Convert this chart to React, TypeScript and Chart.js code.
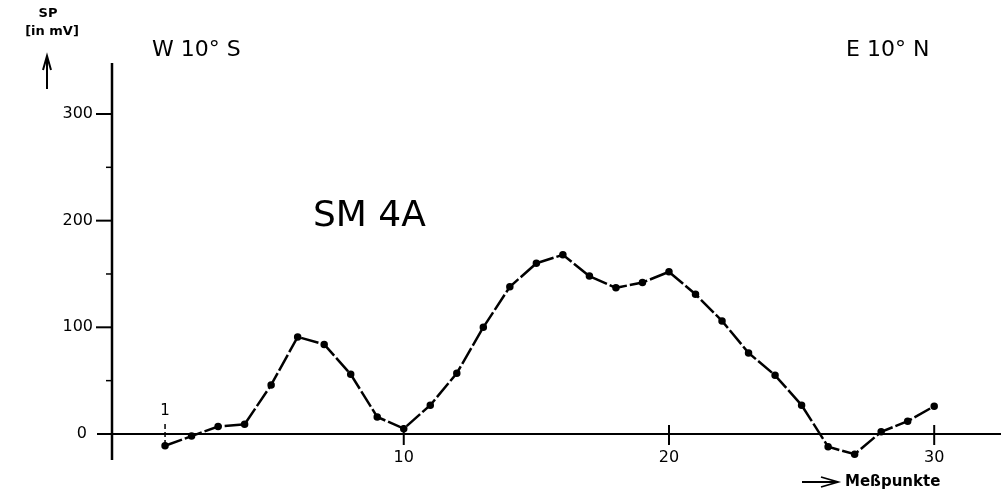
import React, { useEffect, useRef } from "react";
import { Chart, registerables } from "chart.js";

Chart.register(...registerables);

const measurePoints: number[] = [1,2,3,4,5,6,7,8,9,10,11,12,13,14,15,16,17,18,19,20,21,22,23,24,25,26,27,28,29,30];
const spValues: number[] = [-11,-2,7,9,46,91,84,56,16,5,27,57,100,138,160,168,148,137,142,152,131,106,76,55,27,-12,-19,2,12,26];
const yMajorTicks: number[] = [0, 100, 200, 300];
const yMinorTicks: number[] = [50, 150, 250];
const xMajorTicks: number[] = [10, 20, 30];

const FONT = "'DejaVu Sans', sans-serif";

const axesPlugin = {
  id: "handAxes",
  afterDraw(chart: any) {
    const { ctx } = chart;
    const xs = chart.scales.x;
    const ys = chart.scales.y;
    const ax = xs.getPixelForValue(xs.min);
    const ay = ys.getPixelForValue(0);
    ctx.save();
    ctx.strokeStyle = "#000";
    ctx.fillStyle = "#000";
    // y axis
    ctx.lineWidth = 2.5;
    ctx.beginPath();
    ctx.moveTo(ax, ys.getPixelForValue(ys.max));
    ctx.lineTo(ax, ys.getPixelForValue(ys.min));
    ctx.stroke();
    // x axis
    ctx.lineWidth = 2;
    ctx.beginPath();
    ctx.moveTo(ax - 15, ay);
    ctx.lineTo(1001, ay);
    ctx.stroke();
    // y ticks
    ctx.font = `16px ${FONT}`;
    ctx.textAlign = "right";
    ctx.textBaseline = "middle";
    yMajorTicks.forEach((v) => {
      const py = ys.getPixelForValue(v);
      if (v !== 0) {
        ctx.lineWidth = 2;
        ctx.beginPath();
        ctx.moveTo(ax - 16, py);
        ctx.lineTo(ax, py);
        ctx.stroke();
      }
      ctx.fillText(String(v), ax - (v === 0 ? 25 : 19), py);
    });
    yMinorTicks.forEach((v) => {
      const py = ys.getPixelForValue(v);
      ctx.lineWidth = 1.5;
      ctx.beginPath();
      ctx.moveTo(ax - 6, py);
      ctx.lineTo(ax, py);
      ctx.stroke();
    });
    // x ticks
    ctx.textAlign = "center";
    xMajorTicks.forEach((v) => {
      const px = xs.getPixelForValue(v);
      ctx.lineWidth = 2;
      ctx.beginPath();
      ctx.moveTo(px, ay - 9);
      ctx.lineTo(px, ay + 11);
      ctx.stroke();
      ctx.fillText(String(v), px, ay + 24);
    });
    // point 1 marker
    const p1 = xs.getPixelForValue(measurePoints[0]);
    ctx.lineWidth = 1.5;
    ctx.setLineDash([5, 3]);
    ctx.beginPath();
    ctx.moveTo(p1, ay - 10);
    ctx.lineTo(p1, ay + 12);
    ctx.stroke();
    ctx.setLineDash([]);
    ctx.font = `15px ${FONT}`;
    ctx.fillText("1", p1, ay - 23);

    // y axis title
    ctx.font = `bold 13px ${FONT}`;
    ctx.textAlign = "center";
    ctx.fillText("SP", 48, 14);
    ctx.fillText("[in mV]", 52, 32);
    // up arrow
    ctx.lineWidth = 2;
    ctx.beginPath();
    ctx.moveTo(47, 89);
    ctx.lineTo(47, 58);
    ctx.moveTo(43, 70);
    ctx.lineTo(47, 56);
    ctx.lineTo(51, 70);
    ctx.stroke();

    // direction labels
    ctx.font = `22px ${FONT}`;
    ctx.textAlign = "left";
    ctx.fillText("W 10° S", 152, 50);
    ctx.fillText("E 10° N", 846, 50);

    // profile label
    ctx.font = `36px ${FONT}`;
    ctx.fillText("SM 4A", 313, 217);

    // x axis title
    ctx.lineWidth = 1.8;
    ctx.beginPath();
    ctx.moveTo(802, 482);
    ctx.lineTo(836, 482);
    ctx.moveTo(821, 477);
    ctx.lineTo(838, 482);
    ctx.lineTo(821, 487);
    ctx.stroke();
    ctx.font = `bold 15px ${FONT}`;
    ctx.fillText("Meßpunkte", 845, 482);
    ctx.restore();
  },
};

export default function App() {
  const canvasRef = useRef<HTMLCanvasElement | null>(null);
  useEffect(() => {
    const canvas = canvasRef.current;
    if (!canvas) return;
    const chart = new Chart(canvas, {
      type: "line",
      data: {
        labels: measurePoints,
        datasets: [
          {
            data: measurePoints.map((x, i) => ({ x, y: spValues[i] })),
            borderColor: "#000",
            backgroundColor: "#000",
            borderWidth: 2.5,
            borderDash: [18, 3],
            pointRadius: 2.5,
            pointHoverRadius: 2.5,
            tension: 0,
            fill: false,
          },
        ],
      },
      options: {
        animation: false,
        responsive: false,
        maintainAspectRatio: false,
        layout: { padding: { left: 112, top: 63, right: 1, bottom: 35 } },
        plugins: { legend: { display: false }, tooltip: { enabled: false } },
        scales: {
          x: { type: "linear", min: -1, max: 32.33, display: false },
          y: { type: "linear", min: -24.4, max: 347.8, display: false },
        },
      },
      plugins: [axesPlugin],
    });
    return () => chart.destroy();
  }, []);
  return (
    <div style={{ position: "fixed", left: 0, top: 0, width: 1001, height: 495, background: "#fff" }}>
      <canvas ref={canvasRef} width={1001} height={495} style={{ width: 1001, height: 495 }} />
    </div>
  );
}
